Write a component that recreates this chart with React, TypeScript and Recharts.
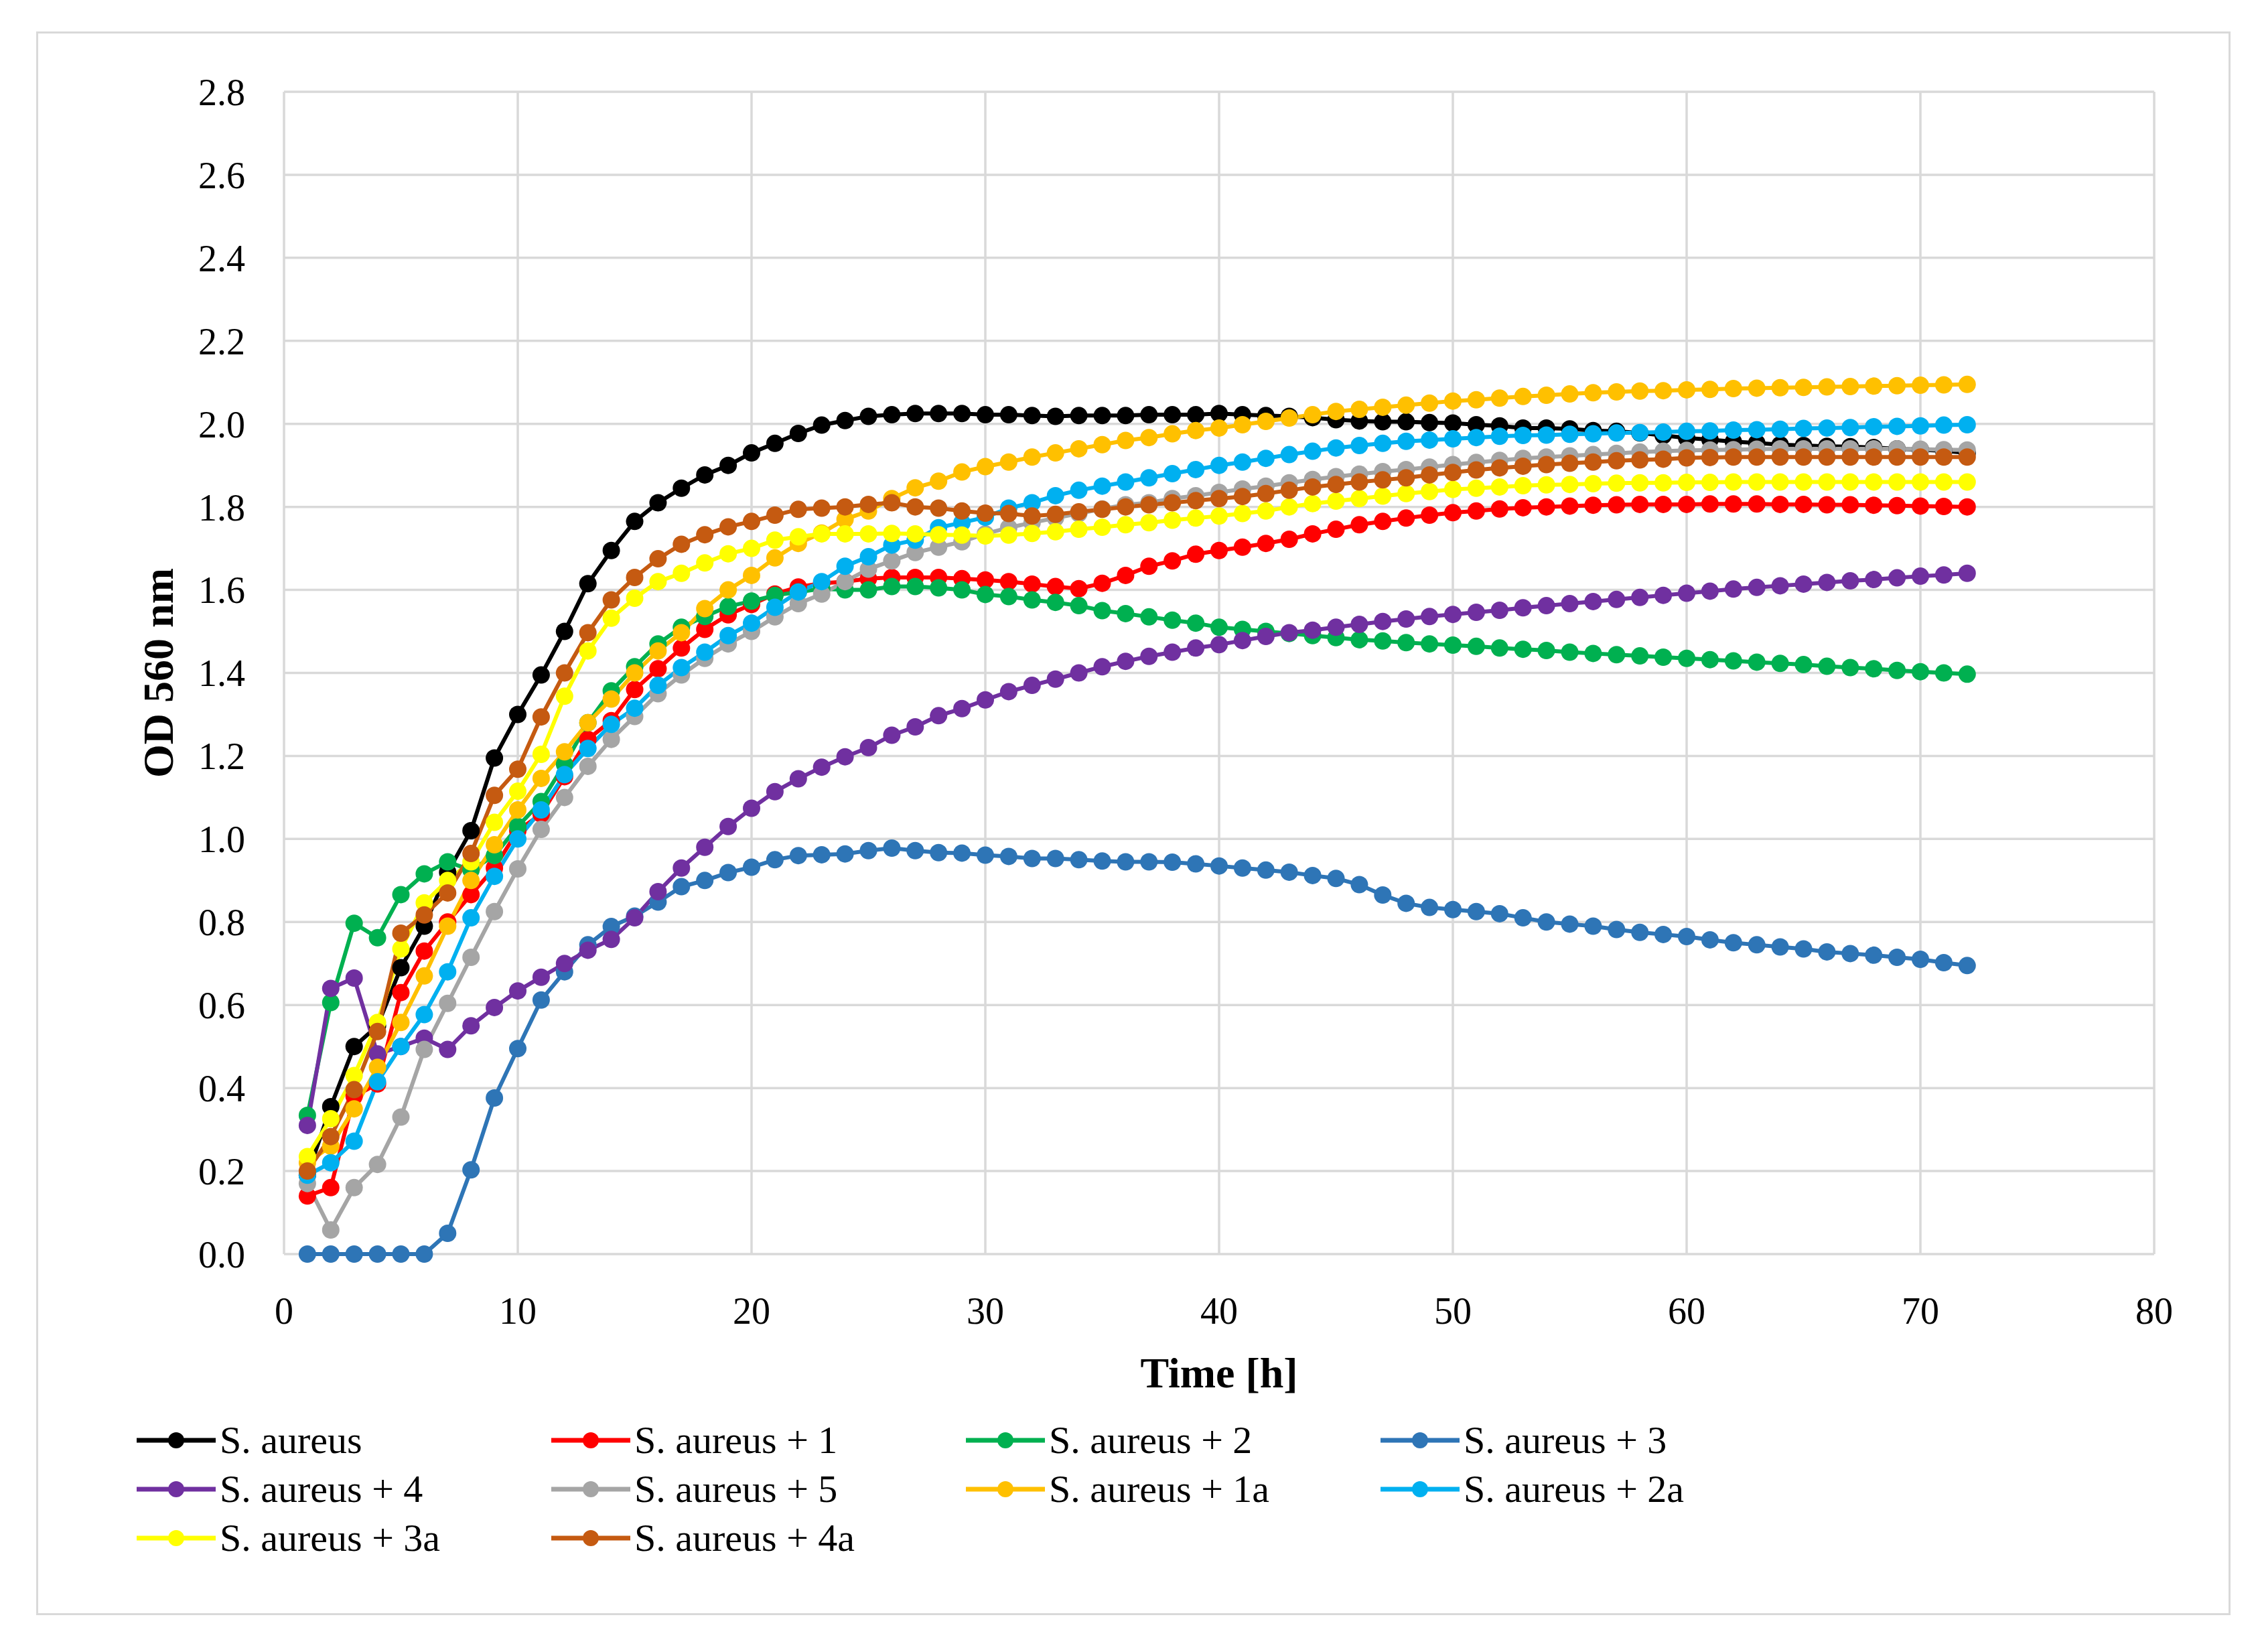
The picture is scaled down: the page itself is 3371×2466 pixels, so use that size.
import React from "react";
import { LineChart, Line, XAxis, YAxis, CartesianGrid, Label } from "recharts";

const HOURS = [
  1, 2, 3, 4, 5, 6, 7, 8, 9, 10, 11, 12, 13, 14, 15, 16, 17, 18, 19, 20, 21, 22, 23, 24,
  25, 26, 27, 28, 29, 30, 31, 32, 33, 34, 35, 36, 37, 38, 39, 40, 41, 42, 43, 44, 45, 46, 47, 48,
  49, 50, 51, 52, 53, 54, 55, 56, 57, 58, 59, 60, 61, 62, 63, 64, 65, 66, 67, 68, 69, 70, 71, 72,
];

const S_AUREUS = [
  0.19, 0.355, 0.5, 0.55, 0.69, 0.79, 0.92, 1.02, 1.195, 1.3, 1.395, 1.5, 1.615, 1.695, 1.765, 1.81,
  1.845, 1.877, 1.9, 1.93, 1.953, 1.977, 1.997, 2.008, 2.018, 2.022, 2.025, 2.025, 2.025, 2.022, 2.022, 2.02,
  2.018, 2.02, 2.02, 2.02, 2.022, 2.022, 2.022, 2.025, 2.022, 2.02, 2.018, 2.015, 2.01, 2.007, 2.005, 2.005,
  2.003, 2.002, 1.998, 1.995, 1.99, 1.99, 1.988, 1.984, 1.982, 1.978, 1.972, 1.966, 1.962, 1.957, 1.954, 1.95,
  1.948, 1.946, 1.945, 1.943, 1.94, 1.938, 1.935, 1.93,
];

const S_AUREUS_1 = [
  0.14, 0.16, 0.38, 0.41, 0.63, 0.73, 0.8, 0.866, 0.93, 1.02, 1.06, 1.15, 1.24, 1.285, 1.36, 1.41,
  1.46, 1.505, 1.54, 1.565, 1.59, 1.607, 1.616, 1.62, 1.627, 1.63, 1.63, 1.63, 1.627, 1.624, 1.62, 1.614,
  1.608, 1.603, 1.616, 1.635, 1.657, 1.67, 1.686, 1.695, 1.703, 1.712, 1.722, 1.735, 1.746, 1.757, 1.765, 1.773,
  1.78, 1.786, 1.79, 1.795, 1.798, 1.8, 1.802, 1.804, 1.805, 1.806, 1.806, 1.806, 1.807, 1.807, 1.807, 1.806,
  1.806, 1.805, 1.805, 1.804, 1.803, 1.802, 1.801, 1.8,
];

const S_AUREUS_2 = [
  0.334, 0.606, 0.797, 0.762, 0.866, 0.916, 0.945, 0.925, 0.96, 1.03, 1.09, 1.18, 1.28, 1.357, 1.415, 1.47,
  1.51, 1.536, 1.56, 1.573, 1.587, 1.595, 1.603, 1.6, 1.6, 1.608, 1.608, 1.605, 1.6, 1.589, 1.584, 1.576,
  1.57, 1.562, 1.55, 1.543, 1.535, 1.527, 1.52, 1.51, 1.505, 1.5, 1.495, 1.49, 1.485, 1.48, 1.477, 1.473,
  1.47, 1.467, 1.464, 1.46, 1.457, 1.454, 1.45, 1.447, 1.444, 1.441, 1.438, 1.435, 1.432, 1.429, 1.426, 1.423,
  1.42, 1.416, 1.413, 1.41, 1.406, 1.403, 1.4, 1.397,
];

const S_AUREUS_3 = [
  0, 0, 0, 0, 0, 0, 0.05, 0.203, 0.376, 0.495, 0.612, 0.68, 0.745, 0.789, 0.814, 0.848,
  0.885, 0.9, 0.919, 0.932, 0.95, 0.96, 0.962, 0.964, 0.972, 0.978, 0.972, 0.967, 0.966, 0.961, 0.958, 0.953,
  0.953, 0.95, 0.947, 0.945, 0.945, 0.944, 0.94, 0.935, 0.93, 0.925, 0.92, 0.912, 0.905, 0.89, 0.865, 0.845,
  0.835, 0.83, 0.825, 0.82, 0.81, 0.8, 0.795, 0.79, 0.782, 0.775, 0.77, 0.765, 0.757, 0.75, 0.745, 0.74,
  0.735, 0.728, 0.724, 0.72, 0.715, 0.71, 0.702, 0.695,
];

const S_AUREUS_4 = [
  0.31, 0.64, 0.665, 0.482, 0.5, 0.52, 0.493, 0.55, 0.594, 0.634, 0.667, 0.7, 0.732, 0.758, 0.81, 0.873,
  0.93, 0.98, 1.03, 1.074, 1.114, 1.145, 1.173, 1.198, 1.22, 1.25, 1.27, 1.297, 1.314, 1.335, 1.355, 1.37,
  1.385, 1.4, 1.415, 1.428, 1.44, 1.45, 1.46, 1.468, 1.478, 1.488, 1.497, 1.503, 1.51, 1.517, 1.524, 1.53,
  1.536, 1.541, 1.546, 1.551, 1.557, 1.562, 1.567, 1.572, 1.577, 1.582, 1.587, 1.592, 1.597, 1.602, 1.606, 1.61,
  1.614, 1.618, 1.622, 1.625, 1.629, 1.633, 1.636, 1.64,
];

const S_AUREUS_5 = [
  0.17, 0.058, 0.16, 0.216, 0.33, 0.493, 0.604, 0.715, 0.825, 0.928, 1.023, 1.1, 1.175, 1.24, 1.295, 1.35,
  1.395, 1.435, 1.47, 1.5, 1.535, 1.567, 1.59, 1.62, 1.65, 1.67, 1.69, 1.703, 1.716, 1.735, 1.75, 1.762,
  1.773, 1.784, 1.795, 1.805, 1.81, 1.82, 1.827, 1.835, 1.843, 1.85, 1.858, 1.866, 1.873, 1.879, 1.885, 1.89,
  1.896, 1.902, 1.907, 1.912, 1.917, 1.92, 1.923, 1.926, 1.929, 1.932, 1.934, 1.936, 1.937, 1.938, 1.939, 1.94,
  1.94, 1.94, 1.94, 1.94, 1.94, 1.939, 1.938, 1.937,
];

const S_AUREUS_1A = [
  0.22, 0.26, 0.35, 0.45, 0.558, 0.67, 0.79, 0.9, 0.986, 1.07, 1.146, 1.21, 1.28, 1.337, 1.4, 1.453,
  1.497, 1.555, 1.6, 1.635, 1.677, 1.712, 1.737, 1.77, 1.79, 1.82, 1.846, 1.862, 1.884, 1.897, 1.908, 1.92,
  1.93, 1.94, 1.95, 1.96, 1.967, 1.976, 1.984, 1.99, 1.998, 2.006, 2.014, 2.022, 2.03, 2.035, 2.04, 2.045,
  2.05, 2.055, 2.058, 2.062, 2.066, 2.069, 2.072, 2.075, 2.077, 2.079, 2.08, 2.082, 2.083, 2.085, 2.086, 2.087,
  2.088, 2.089, 2.09, 2.091, 2.092, 2.093, 2.094, 2.095,
];

const S_AUREUS_2A = [
  0.19, 0.22, 0.272, 0.415, 0.5, 0.577, 0.68, 0.81, 0.91, 1.0, 1.07, 1.155, 1.218, 1.276, 1.315, 1.37,
  1.413, 1.45, 1.49, 1.52, 1.558, 1.595, 1.62, 1.657, 1.68, 1.708, 1.72, 1.75, 1.762, 1.775, 1.797, 1.81,
  1.827, 1.84, 1.85, 1.86, 1.87, 1.88, 1.89, 1.9, 1.908, 1.917, 1.926, 1.934, 1.942, 1.948, 1.953, 1.958,
  1.961, 1.964, 1.967, 1.97, 1.972, 1.973, 1.975, 1.976, 1.978, 1.979, 1.98, 1.982, 1.983, 1.985, 1.986, 1.987,
  1.989, 1.99, 1.991, 1.993, 1.994, 1.995, 1.997, 1.998,
];

const S_AUREUS_3A = [
  0.235, 0.326, 0.43, 0.558, 0.735, 0.846, 0.9, 0.945, 1.04, 1.115, 1.204, 1.344, 1.453, 1.532, 1.58, 1.62,
  1.64, 1.665, 1.687, 1.7, 1.72, 1.728, 1.735, 1.735, 1.735, 1.736, 1.735, 1.733, 1.732, 1.73, 1.732, 1.736,
  1.74, 1.746, 1.751, 1.757, 1.762, 1.768, 1.773, 1.778, 1.784, 1.79, 1.8, 1.808, 1.814, 1.82, 1.826, 1.832,
  1.837, 1.842, 1.845, 1.848, 1.851, 1.853, 1.854, 1.856, 1.857, 1.858, 1.858, 1.859, 1.859, 1.86, 1.86, 1.86,
  1.86, 1.86, 1.86, 1.86, 1.86, 1.86, 1.86, 1.86,
];

const S_AUREUS_4A = [
  0.2, 0.283, 0.396, 0.536, 0.773, 0.817, 0.87, 0.965, 1.105, 1.168, 1.294, 1.4, 1.497, 1.576, 1.63, 1.675,
  1.71, 1.733, 1.752, 1.765, 1.78, 1.794, 1.797, 1.8, 1.806, 1.81, 1.8, 1.797, 1.79, 1.785, 1.784, 1.778,
  1.782, 1.788, 1.794, 1.8, 1.805, 1.81, 1.815, 1.82, 1.825, 1.832, 1.84, 1.848, 1.854, 1.86, 1.865, 1.87,
  1.877, 1.883, 1.889, 1.894, 1.898, 1.902, 1.905, 1.908, 1.911, 1.913, 1.915, 1.918, 1.919, 1.92, 1.92, 1.92,
  1.92, 1.92, 1.92, 1.92, 1.92, 1.92, 1.92, 1.92,
];

const X_TICKS = [0, 10, 20, 30, 40, 50, 60, 70, 80];
const Y_TICKS = [0, 0.2, 0.4, 0.6, 0.8, 1.0, 1.2, 1.4, 1.6, 1.8, 2.0, 2.2, 2.4, 2.6, 2.8];

const SERIES = [
  { key: "s0", name: "S. aureus", color: "#000000", values: S_AUREUS },
  { key: "s1", name: "S. aureus + 1", color: "#ff0000", values: S_AUREUS_1 },
  { key: "s2", name: "S. aureus + 2", color: "#00b050", values: S_AUREUS_2 },
  { key: "s3", name: "S. aureus + 3", color: "#2e75b6", values: S_AUREUS_3 },
  { key: "s4", name: "S. aureus + 4", color: "#7030a0", values: S_AUREUS_4 },
  { key: "s5", name: "S. aureus + 5", color: "#a5a5a5", values: S_AUREUS_5 },
  { key: "s1a", name: "S. aureus + 1a", color: "#ffc000", values: S_AUREUS_1A },
  { key: "s2a", name: "S. aureus + 2a", color: "#00b0f0", values: S_AUREUS_2A },
  { key: "s3a", name: "S. aureus + 3a", color: "#ffff00", values: S_AUREUS_3A },
  { key: "s4a", name: "S. aureus + 4a", color: "#c55a11", values: S_AUREUS_4A },
];

const rows = HOURS.map((h, i) => {
  const row: Record<string, number> = { hour: h };
  SERIES.forEach((s) => {
    row[s.key] = s.values[i];
  });
  return row;
});

const FONT = "'Book Antiqua', 'Palatino Linotype', 'Liberation Serif', 'DejaVu Serif', serif";
const GRID = "#d9d9d9";

const Y_AXIS_W = 300;
const X_AXIS_H = 150;

function LegendBlock() {
  return (
    <div
      style={{
        position: "absolute",
        left: 204,
        top: 2113,
        display: "grid",
        gridTemplateColumns: "619px 619px 619px 619px",
        gridAutoRows: "73px",
        fontFamily: FONT,
        fontSize: 58,
        color: "#000",
      }}
    >
      {SERIES.map((s) => (
        <div key={s.key} style={{ display: "flex", alignItems: "center", whiteSpace: "nowrap" }}>
          <svg width={120} height={40} style={{ marginRight: 4 }}>
            <line x1={0} y1={20} x2={118} y2={20} stroke={s.color} strokeWidth={7} />
            <circle cx={59} cy={20} r={12} fill={s.color} />
          </svg>
          <span>{s.name}</span>
        </div>
      ))}
    </div>
  );
}

export default function App() {
  return (
    <div
      style={{
        position: "absolute",
        left: 0,
        top: 0,
        width: 3371,
        height: 2466,
        background: "#fff",
        fontFamily: FONT,
      }}
    >
      <div
        style={{
          position: "absolute",
          left: 54,
          top: 47,
          width: 3270,
          height: 2358,
          border: `3px solid ${GRID}`,
        }}
      />
      <LineChart
        width={3371}
        height={2466}
        data={rows}
        margin={{ top: 137, right: 155, left: 424 - Y_AXIS_W, bottom: 2466 - 1872 - X_AXIS_H }}
      >
        <CartesianGrid stroke={GRID} strokeWidth={3.5} horizontalValues={Y_TICKS} verticalValues={X_TICKS} />
        <XAxis
          dataKey="hour"
          type="number"
          domain={[0, 80]}
          ticks={X_TICKS}
          height={X_AXIS_H}
          axisLine={false}
          tickLine={false}
          tickSize={0}
          tickMargin={64}
          tick={{ fill: "#000", fontSize: 56, fontFamily: FONT }}
        >
          <Label
            content={(props: any) => {
              const vb = props.viewBox || {};
              return (
                <text
                  x={vb.x + vb.width / 2}
                  y={vb.y + 177}
                  textAnchor="middle"
                  dominantBaseline="central"
                  fontFamily={FONT}
                  fontSize={64}
                  fontWeight="bold"
                  fill="#000"
                >
                  Time [h]
                </text>
              );
            }}
          />
        </XAxis>
        <YAxis
          type="number"
          domain={[0, 2.8]}
          ticks={Y_TICKS}
          width={Y_AXIS_W}
          axisLine={false}
          tickLine={false}
          tickSize={0}
          tickMargin={58}
          tickFormatter={(v: number) => v.toFixed(1)}
          tick={{ fill: "#000", fontSize: 56, fontFamily: FONT }}
        >
          <Label
            content={(props: any) => {
              const vb = props.viewBox || {};
              const cx = vb.x + 112;
              const cy = vb.y + vb.height / 2;
              return (
                <text
                  x={cx}
                  y={cy}
                  transform={`rotate(-90, ${cx}, ${cy})`}
                  textAnchor="middle"
                  dominantBaseline="central"
                  fontFamily={FONT}
                  fontSize={64}
                  fontWeight="bold"
                  fill="#000"
                >
                  OD 560 nm
                </text>
              );
            }}
          />
        </YAxis>
        {SERIES.map((s) => (
          <Line
            key={s.key}
            type="linear"
            dataKey={s.key}
            name={s.name}
            stroke={s.color}
            strokeWidth={6}
            dot={{ r: 13, fill: s.color, stroke: s.color, strokeWidth: 0 }}
            activeDot={false}
            isAnimationActive={false}
          />
        ))}
      </LineChart>
      <LegendBlock />
    </div>
  );
}
